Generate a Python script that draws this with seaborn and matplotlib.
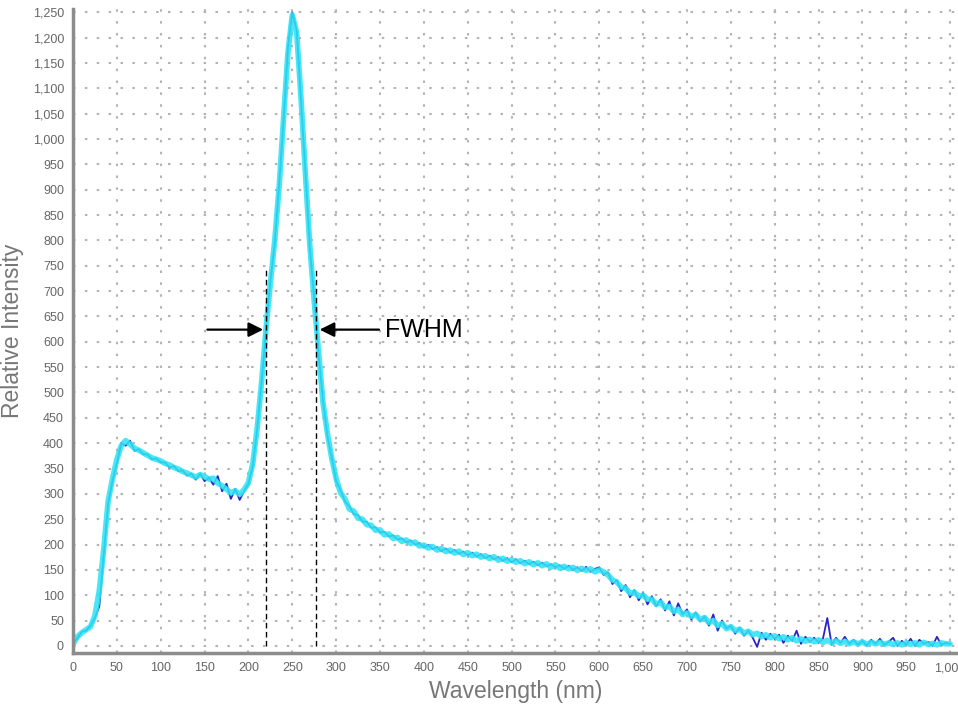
import numpy as np
import pandas as pd
import matplotlib
matplotlib.use('Agg')
import matplotlib.pyplot as plt
import seaborn as sns
from matplotlib.ticker import FuncFormatter, MultipleLocator

# wavelength grid, every 5 nm
wavelength = list(range(0, 1001, 5))

# smoothed trace (cyan)
cyan_trace = [
    3, 18, 26, 32, 38, 60, 110, 190, 285, 330,
    368, 395, 405, 398, 390, 386, 381, 376, 371, 368,
    365, 360, 357, 352, 349, 344, 341, 337, 333, 338,
    334, 329, 331, 321, 316, 309, 302, 306, 299, 308,
    322, 360, 430, 520, 625, 715, 800, 905, 1040, 1170,
    1245, 1210, 1080, 930, 790, 680, 580, 480, 420, 370,
    330, 302, 290, 270, 266, 252, 250, 239, 238, 228,
    229, 219, 221, 212, 214, 206, 209, 202, 205, 197,
    199, 193, 196, 189, 192, 186, 189, 183, 187, 180,
    184, 178, 181, 175, 178, 172, 176, 169, 173, 167,
    170, 165, 168, 162, 166, 160, 164, 158, 162, 155,
    160, 153, 157, 152, 155, 149, 153, 149, 152, 146,
    150, 146, 140, 130, 126, 116, 114, 104, 106, 98,
    100, 92, 92, 82, 86, 76, 78, 68, 72, 62,
    65, 58, 62, 52, 56, 46, 50, 40, 44, 34,
    38, 30, 33, 25, 29, 22, 25, 18, 22, 16,
    20, 14, 18, 12, 16, 10, 14, 9, 13, 8,
    12, 7, 11, 6, 10, 5, 9, 4, 8, 4,
    8, 3, 7, 4, 7, 3, 6, 3, 6, 2,
    6, 3, 6, 2, 7, 3, 5, 2, 6, 4,
    4,
]

# raw noisy trace (blue)
blue_trace = [
    5, 15, 28, 30, 40, 55, 78, 180, 280, 325,
    360, 400, 395, 405, 385, 388, 378, 378, 368, 370,
    362, 362, 352, 355, 345, 346, 336, 340, 328, 340,
    325, 332, 318, 335, 305, 320, 290, 310, 288, 305,
    320, 355, 428, 520, 622, 720, 795, 910, 1035, 1180,
    1250, 1215, 1075, 935, 785, 685, 575, 485, 415, 372,
    325, 308, 285, 276, 260, 258, 245, 245, 233, 234,
    224, 225, 216, 218, 210, 212, 204, 208, 200, 203,
    194, 199, 191, 195, 187, 192, 184, 189, 182, 186,
    179, 184, 176, 181, 173, 178, 171, 175, 168, 173,
    165, 171, 163, 168, 161, 166, 159, 164, 157, 161,
    155, 159, 152, 158, 150, 155, 148, 156, 146, 152,
    155, 140, 145, 122, 130, 108, 120, 96, 110, 90,
    104, 82, 98, 78, 92, 70, 88, 60, 84, 62,
    72, 52, 66, 48, 58, 40, 62, 30, 50, 34,
    40, 24, 36, 20, 30, 16, -2, 26, 12, 24,
    14, 22, 6, 20, 10, 30, 4, 18, 8, 16,
    6, 14, 55, 2, 16, 6, 18, 4, 12, 2,
    10, 0, 12, 4, 14, 2, 8, 16, 0, 10,
    2, 14, 0, 12, 4, 8, 0, 18, 2, 6,
    4,
]

# FWHM annotation
fwhm_left = 220
fwhm_right = 277
half_max = 624
marker_top = 742

df = pd.DataFrame({'wavelength': wavelength, 'cyan': cyan_trace, 'blue': blue_trace})

sns.set_style('white')
plt.rcParams['font.family'] = ['Liberation Sans', 'DejaVu Sans']

fig = plt.figure(figsize=(9.58, 7.11), dpi=100)
ax = fig.add_axes([0.0762, 0.0816, 0.9238, 0.906])

sns.lineplot(data=df, x='wavelength', y='blue', color='#2a24c8', lw=1.3, ax=ax)
sns.lineplot(data=df, x='wavelength', y='cyan', color='#2ee4f4', lw=4, alpha=0.88, ax=ax)

ax.set_xlim(0, 1009)
ax.set_ylim(-14, 1257)
ax.xaxis.set_major_locator(MultipleLocator(50))
ax.yaxis.set_major_locator(MultipleLocator(50))
comma = FuncFormatter(lambda v, p: f'{int(v):,}')
ax.xaxis.set_major_formatter(comma)
ax.yaxis.set_major_formatter(comma)
ax.grid(True, linestyle=(0, (1.2, 4.5)), color='#b4b4b4', lw=1.5)
ax.tick_params(axis='both', labelsize=9, colors='#666666', length=3, width=1)

for s in ['top', 'right']:
    ax.spines[s].set_visible(False)
for s in ['left', 'bottom']:
    ax.spines[s].set_color('#8c8c8c')
    ax.spines[s].set_linewidth(2.5)

ax.set_xlabel('Wavelength (nm)', fontsize=16.5, color='#777777', labelpad=4)
ax.set_ylabel('Relative Intensity', fontsize=16.5, color='#777777', labelpad=6)

# dashed markers at half maximum
ax.vlines([fwhm_left, fwhm_right], 0, marker_top, colors='black', linestyles=(0, (4, 2.5)), lw=1)

arrow = dict(arrowstyle='-|>', color='black', lw=1.6, mutation_scale=22)
ax.annotate('', xy=(fwhm_left, half_max), xytext=(150, half_max), arrowprops=arrow)
ax.annotate('', xy=(fwhm_right + 1, half_max), xytext=(352, half_max), arrowprops=arrow)
ax.text(356, half_max, 'FWHM', fontsize=18, color='black', va='center', ha='left')

plt.savefig('out.png', dpi=100)
